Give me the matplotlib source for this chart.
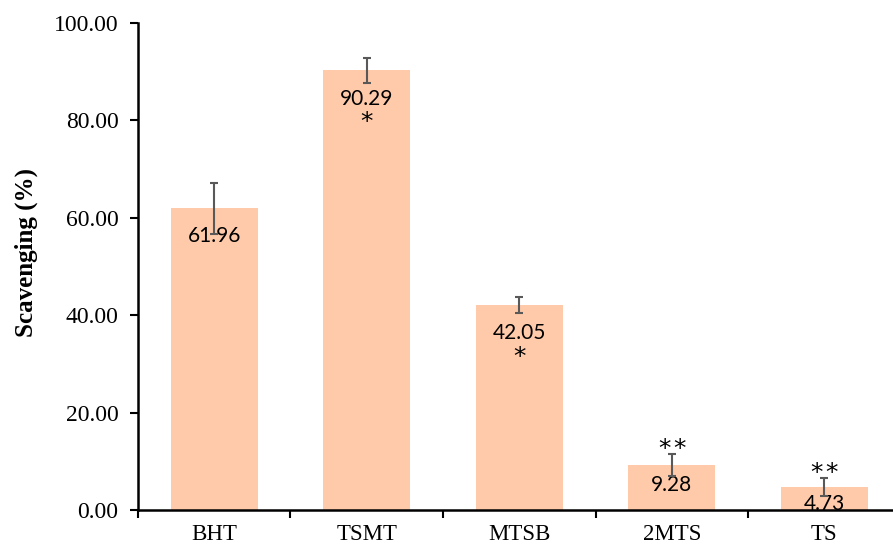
import numpy as np
import matplotlib.pyplot as plt

compounds = ["BHT", "TSMT", "MTSB", "2MTS", "TS"]
scavenging = [61.96, 90.29, 42.05, 9.28, 4.73]
sd = [5.2, 2.6, 1.6, 2.2, 1.8]
signif = ["", "*", "*", "**", "**"]

bar_color = "#FFCAAA"
err_color = "#595959"
# how far (pt) each value label sits below the top of its bar
label_drop = [20, 20.5, 20, 14.5, 12]

fig = plt.figure(figsize=(8.93, 5.49), dpi=100)
ax = fig.add_axes([0.1545, 0.071, 0.854, 0.887])

x = np.arange(len(compounds))
ax.bar(x, scavenging, width=0.57, color=bar_color, zorder=1)
ax.errorbar(x, scavenging, yerr=sd, fmt="none", ecolor=err_color,
            elinewidth=1.5, capsize=3, capthick=1.5, zorder=3)

for xi, v, d in zip(x, scavenging, label_drop):
    ax.annotate(f"{v:.2f}", (xi, v), xytext=(0, -d), textcoords="offset points",
                ha="center", va="center", fontsize=15, family="Lato", zorder=2)

# significance stars: under the value for tall bars, above the error bar for short ones
for xi, v, e, s in zip(x, scavenging, sd, signif):
    n = len(s)
    if n == 0:
        continue
    if v > 20:
        base, dy = v, -37
    else:
        base, dy = v + e, 4
    for k in range(n):
        dx = (k - (n - 1) / 2) * 11
        ax.annotate("*", (xi, base), xytext=(dx, dy), textcoords="offset points",
                    ha="center", va="center", fontsize=18, family="DejaVu Sans")

ax.set_xlim(-0.5, len(compounds) - 0.5)
ax.set_ylim(0, 100)
ax.set_yticks(np.arange(0, 101, 20))
ax.set_yticklabels([f"{t:.2f}" for t in range(0, 101, 20)], family="Liberation Serif", fontsize=17)
ax.set_xticks(x)
ax.set_xticklabels(compounds, family="Liberation Serif", fontsize=16.5)
ax.set_xticks(np.arange(-0.5, len(compounds), 1), minor=True)
ax.tick_params(axis="x", which="major", length=0, pad=10)
ax.tick_params(axis="x", which="minor", length=6, width=1.5, direction="out")
ax.tick_params(axis="y", length=6, width=1.5, direction="out", pad=8)

for side in ["top", "right"]:
    ax.spines[side].set_visible(False)
for side in ["left", "bottom"]:
    ax.spines[side].set_linewidth(1.8)

ax.set_ylabel("Scavenging (%)", family="Liberation Serif", fontweight="bold", fontsize=18)
ax.yaxis.set_label_coords(-0.131, 0.528)

fig.savefig("out.png", dpi=100)
